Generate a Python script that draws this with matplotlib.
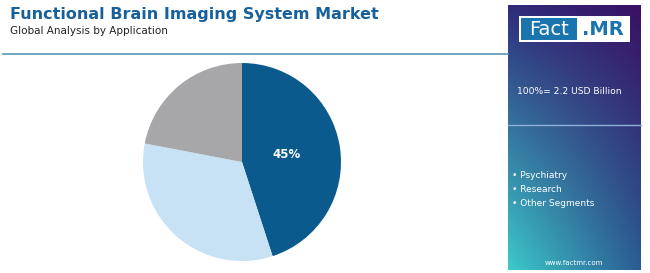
import matplotlib
matplotlib.use("Agg")
import matplotlib.pyplot as plt
import numpy as np
from matplotlib.patches import Rectangle
from matplotlib.colors import to_rgb

categories = ["Psychiatry", "Research", "Other Segments"]
shares = [45, 33, 22]
colors = ["#0b5a8e", "#c6e2f4", "#a7a6a9"]
title = "Functional Brain Imaging System Market"
subtitle = "Global Analysis by Application"
total_label = "100%= 2.2 USD Billion"

W, H = 650, 273
fig = plt.figure(figsize=(W / 100, H / 100), dpi=100)
fig.patch.set_facecolor("white")

def fx(x):
    return x / W

def fy(y):
    return 1 - y / H

# title
fig.text(fx(10), fy(14), title, fontsize=11.5, fontweight="bold", color="#17609a",
         va="center", ha="left")
fig.text(fx(10), fy(31), subtitle, fontsize=7.5, color="#222222", va="center", ha="left")

# horizontal rule
fig.add_artist(plt.Line2D([fx(3), fx(508)], [fy(54), fy(54)], color="#5b93b8", lw=1.2))

# pie
cx, cy, r = 242, 162, 99
ax = fig.add_axes([fx(cx - r), fy(cy + r), 2 * r / W, 2 * r / H])
wedges, _ = ax.pie(shares, colors=colors, startangle=90, counterclock=False,
                   wedgeprops=dict(linewidth=0))
ax.set_aspect("auto")
ax.set_xlim(-1, 1)
ax.set_ylim(-1, 1)
theta = np.deg2rad(90 - shares[0] / 100 * 360 / 2)
ax.text(0.46 * np.cos(theta), 0.46 * np.sin(theta), f"{shares[0]}%", color="white",
        fontsize=8.5, fontweight="bold", ha="center", va="center")

# side panel with gradient
px0, px1, py0, py1 = 508, 641, 5, 270
pax = fig.add_axes([fx(px0), fy(py1), (px1 - px0) / W, (py1 - py0) / H])
pax.set_axis_off()
tl, tr = np.array(to_rgb("#2f2c7a")), np.array(to_rgb("#3a1064"))
bl, br = np.array(to_rgb("#3ccaca")), np.array(to_rgb("#2b5c93"))
ny, nx = 200, 100
u = np.linspace(0, 1, nx)[None, :, None]
v = np.linspace(0, 1, ny)[:, None, None]
img = (1 - v) * ((1 - u) * tl + u * tr) + v * ((1 - u) * bl + u * br)
pax.imshow(img, aspect="auto", extent=[0, 1, 0, 1], origin="upper")
pax.set_xlim(0, 1)
pax.set_ylim(0, 1)

# logo
fig.add_artist(Rectangle((fx(519), fy(42)), (630 - 519) / W, (42 - 16) / H,
                         transform=fig.transFigure, facecolor="white", edgecolor="none"))
fig.add_artist(Rectangle((fx(521), fy(40)), (577 - 521) / W, (40 - 18) / H,
                         transform=fig.transFigure, facecolor="#1a74ad", edgecolor="none"))
fig.text(fx(549), fy(29.5), "Fact", color="white", fontsize=14, ha="center", va="center")
fig.text(fx(603), fy(29.5), ".MR", color="#1a74ad", fontsize=14, fontweight="bold",
         ha="center", va="center")

fig.text(fx(517), fy(92), total_label, color="white", fontsize=6.6, ha="left", va="center")
fig.add_artist(plt.Line2D([fx(508), fx(641)], [fy(125), fy(125)], color="#8fb0d8", lw=1))

for i, c in enumerate(categories):
    fig.text(fx(512), fy(176 + 13.5 * i), "• " + c, color="white", fontsize=6.5,
             ha="left", va="center")

fig.text(fx(574), fy(263), "www.factmr.com", color="white", fontsize=5, ha="center",
         va="center")

fig.savefig("out.png", dpi=100, facecolor="white")
